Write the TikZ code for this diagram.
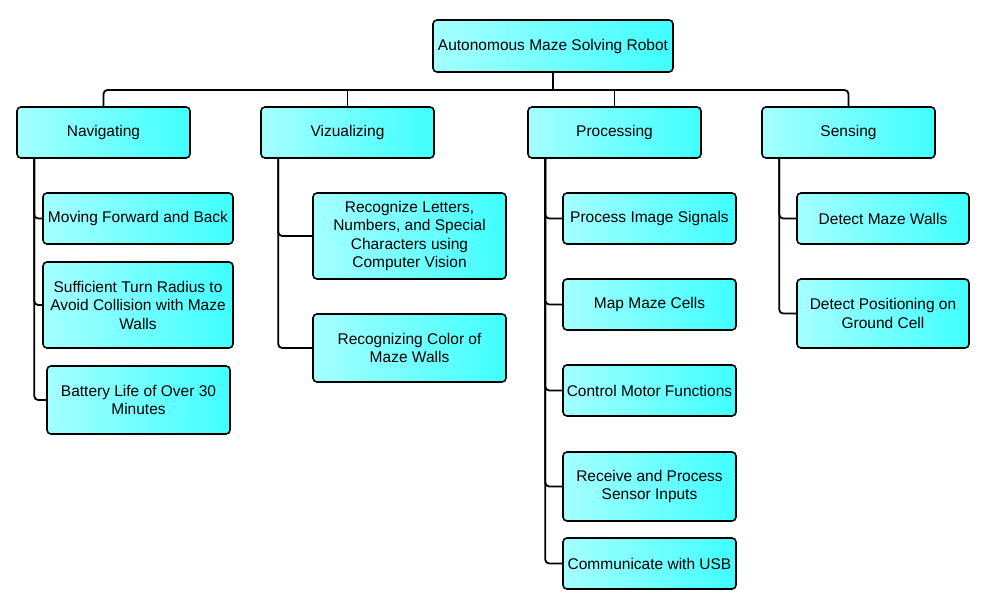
\documentclass[tikz,border=0pt]{standalone}
\usepackage{fontspec}
\setmainfont{Liberation Sans}
\begin{document}
\begin{tikzpicture}[x=1pt,y=-1pt,
  box/.style={draw=black, line width=1.6pt, rounded corners=4pt,
    left color=cyan!35, right color=cyan!75,
    align=center, inner sep=2pt, font=\fontsize{15.5}{18.5}\selectfont},
  conn/.style={draw=black, line width=1.8pt, rounded corners=4pt}]
\useasboundingbox (0,0) rectangle (989,610);
% root
\node[box, minimum width=240pt, minimum height=52pt] (root) at (553,46) {Autonomous Maze Solving Robot};
% level 1
\node[box, minimum width=173pt, minimum height=51pt] (nav) at (103.5,132.5) {Navigating};
\node[box, minimum width=173pt, minimum height=51pt] (viz) at (347.5,132.5) {Vizualizing};
\node[box, minimum width=173pt, minimum height=51pt] (pro) at (614.5,132.5) {Processing};
\node[box, minimum width=173pt, minimum height=51pt] (sen) at (848.5,132.5) {Sensing};
% navigating children
\node[box, minimum width=190pt, minimum height=51pt] (n1) at (138,218.5) {Moving Forward and Back};
\node[box, minimum width=190pt, minimum height=86pt] (n2) at (138,305) {Sufficient Turn Radius to\\Avoid Collision with Maze\\Walls};
\node[box, minimum width=183pt, minimum height=68pt] (n3) at (138.5,400) {Battery Life of Over 30\\Minutes};
% vizualizing children
\node[box, minimum width=193pt, minimum height=86pt] (v1) at (409.5,236) {Recognize Letters,\\Numbers, and Special\\Characters using\\Computer Vision};
\node[box, minimum width=193pt, minimum height=68pt] (v2) at (409.5,348) {Recognizing Color of\\Maze Walls};
% processing children
\node[box, minimum width=173pt, minimum height=51pt] (p1) at (649.5,218.5) {Process Image Signals};
\node[box, minimum width=173pt, minimum height=51pt] (p2) at (649.5,304.5) {Map Maze Cells};
\node[box, minimum width=173pt, minimum height=51pt] (p3) at (649.5,390.5) {Control Motor Functions};
\node[box, minimum width=173pt, minimum height=69pt] (p4) at (649.5,486.5) {Receive and Process\\Sensor Inputs};
\node[box, minimum width=173pt, minimum height=51pt] (p5) at (649.5,563.5) {Communicate with USB};
% sensing children
\node[box, minimum width=172pt, minimum height=51pt] (s1) at (883,218.5) {Detect Maze Walls};
\node[box, minimum width=172pt, minimum height=69pt] (s2) at (883,313.5) {Detect Positioning on\\Ground Cell};
% bus
\coordinate (bus) at (553,90);
\draw[conn] (root.south) -- (bus);
\draw[conn] (nav.north) |- (bus) -| (sen.north);
\draw[conn] (viz.north) -- (viz.north |- bus);
\draw[conn] (pro.north) -- (pro.north |- bus);
% children connectors
\foreach \c in {n1,n2,n3}{\draw[conn] ([xshift=18pt]nav.south west) |- (\c.west);}
\foreach \c in {v1,v2}{\draw[conn] ([xshift=18pt]viz.south west) |- (\c.west);}
\foreach \c in {p1,p2,p3,p4,p5}{\draw[conn] ([xshift=18pt]pro.south west) |- (\c.west);}
\foreach \c in {s1,s2}{\draw[conn] ([xshift=18pt]sen.south west) |- (\c.west);}
\end{tikzpicture}
\end{document}
